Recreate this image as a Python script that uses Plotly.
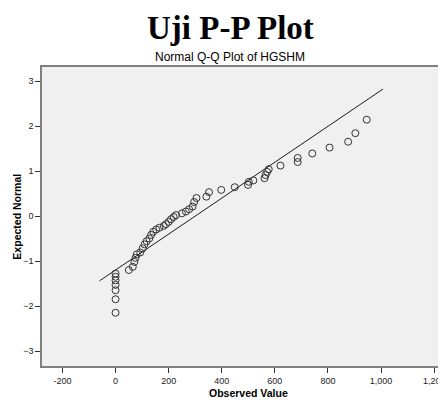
import plotly.graph_objects as go

observed = [0, 0, 0, 0, 0, 0, 0, 50, 65, 71, 75, 80, 93, 102, 109, 117, 127, 134,
            142, 153, 165, 181, 190, 200, 209, 219, 228, 250, 265, 277, 290, 296,
            305, 342, 352, 398, 449, 499, 502, 519, 561, 565, 571, 577, 621, 686,
            686, 741, 806, 876, 903, 946]
expected = [-2.15, -1.85, -1.65, -1.53, -1.43, -1.35, -1.28, -1.20, -1.13, -1.02,
            -0.93, -0.85, -0.81, -0.72, -0.63, -0.56, -0.50, -0.42, -0.35, -0.30,
            -0.26, -0.22, -0.18, -0.13, -0.07, -0.02, 0.02, 0.06, 0.10, 0.15, 0.21,
            0.31, 0.40, 0.43, 0.53, 0.58, 0.64, 0.69, 0.76, 0.79, 0.84, 0.91, 0.98,
            1.04, 1.12, 1.20, 1.29, 1.39, 1.52, 1.65, 1.84, 2.14]

# Reference line endpoints
line_x = [-60, 1007]
line_y = [-1.44, 2.82]

x_ticks = [-200, 0, 200, 400, 600, 800, 1000, 1200]
x_tick_labels = ["-200", "0", "200", "400", "600", "800", "1,000", "1,200"]
y_ticks = [-3, -2, -1, 0, 1, 2, 3]

fig = go.Figure()
fig.add_trace(go.Scatter(x=line_x, y=line_y, mode="lines",
                         line=dict(color="#1a1a1a", width=1), hoverinfo="skip"))
fig.add_trace(go.Scatter(x=observed, y=expected, mode="markers",
                         marker=dict(symbol="circle-open", size=7,
                                     color="#333333", line=dict(width=1))))

axis_font = dict(family="Liberation Sans, Arial, sans-serif", size=9, color="#222")
fig.update_layout(
    width=438, height=394,
    margin=dict(l=34, r=0, t=59, b=36),
    paper_bgcolor="white", plot_bgcolor="#f0f0f0",
    showlegend=False,
    xaxis=dict(range=[-277, 1237], tickvals=x_ticks, ticktext=x_tick_labels,
               showgrid=False, zeroline=False, ticks="outside", ticklen=5,
               tickcolor="#333", showline=True, linecolor="#808080", linewidth=1.5,
               mirror=True, tickfont=axis_font),
    yaxis=dict(range=[-3.333, 3.311], tickvals=y_ticks,
               showgrid=False, zeroline=False, ticks="outside", ticklen=5,
               tickcolor="#333", showline=True, linecolor="#808080", linewidth=1.5,
               mirror=True, tickfont=axis_font),
    annotations=[
        dict(text="<b>Uji P-P Plot</b>", xref="paper", yref="paper",
             x=(231 - 42) / 404, y=1 + 59 / 299, showarrow=False,
             xanchor="center", yanchor="top",
             font=dict(family="Liberation Serif, Times New Roman, serif", size=33, color="black")),
        dict(text="Normal Q-Q Plot of HGSHM", xref="paper", yref="paper",
             x=(231 - 42) / 404, y=(366 - 57) / 299, showarrow=False,
             xanchor="center", yanchor="middle",
             font=dict(family="Liberation Sans, Arial, sans-serif", size=12, color="black")),
        dict(text="<b>Observed Value</b>", xref="paper", yref="paper",
             x=(250 - 42) / 404, y=(366 - 393) / 299, showarrow=False,
             xanchor="center", yanchor="middle",
             font=dict(family="Liberation Sans, Arial, sans-serif", size=10.5, color="black")),
        dict(text="<b>Expected Normal</b>", xref="paper", yref="paper",
             x=(16 - 42) / 404, y=0.5, showarrow=False, textangle=-90,
             xanchor="center", yanchor="middle",
             font=dict(family="Liberation Sans, Arial, sans-serif", size=10.5, color="black")),
    ],
)

fig.write_html("out.html")
